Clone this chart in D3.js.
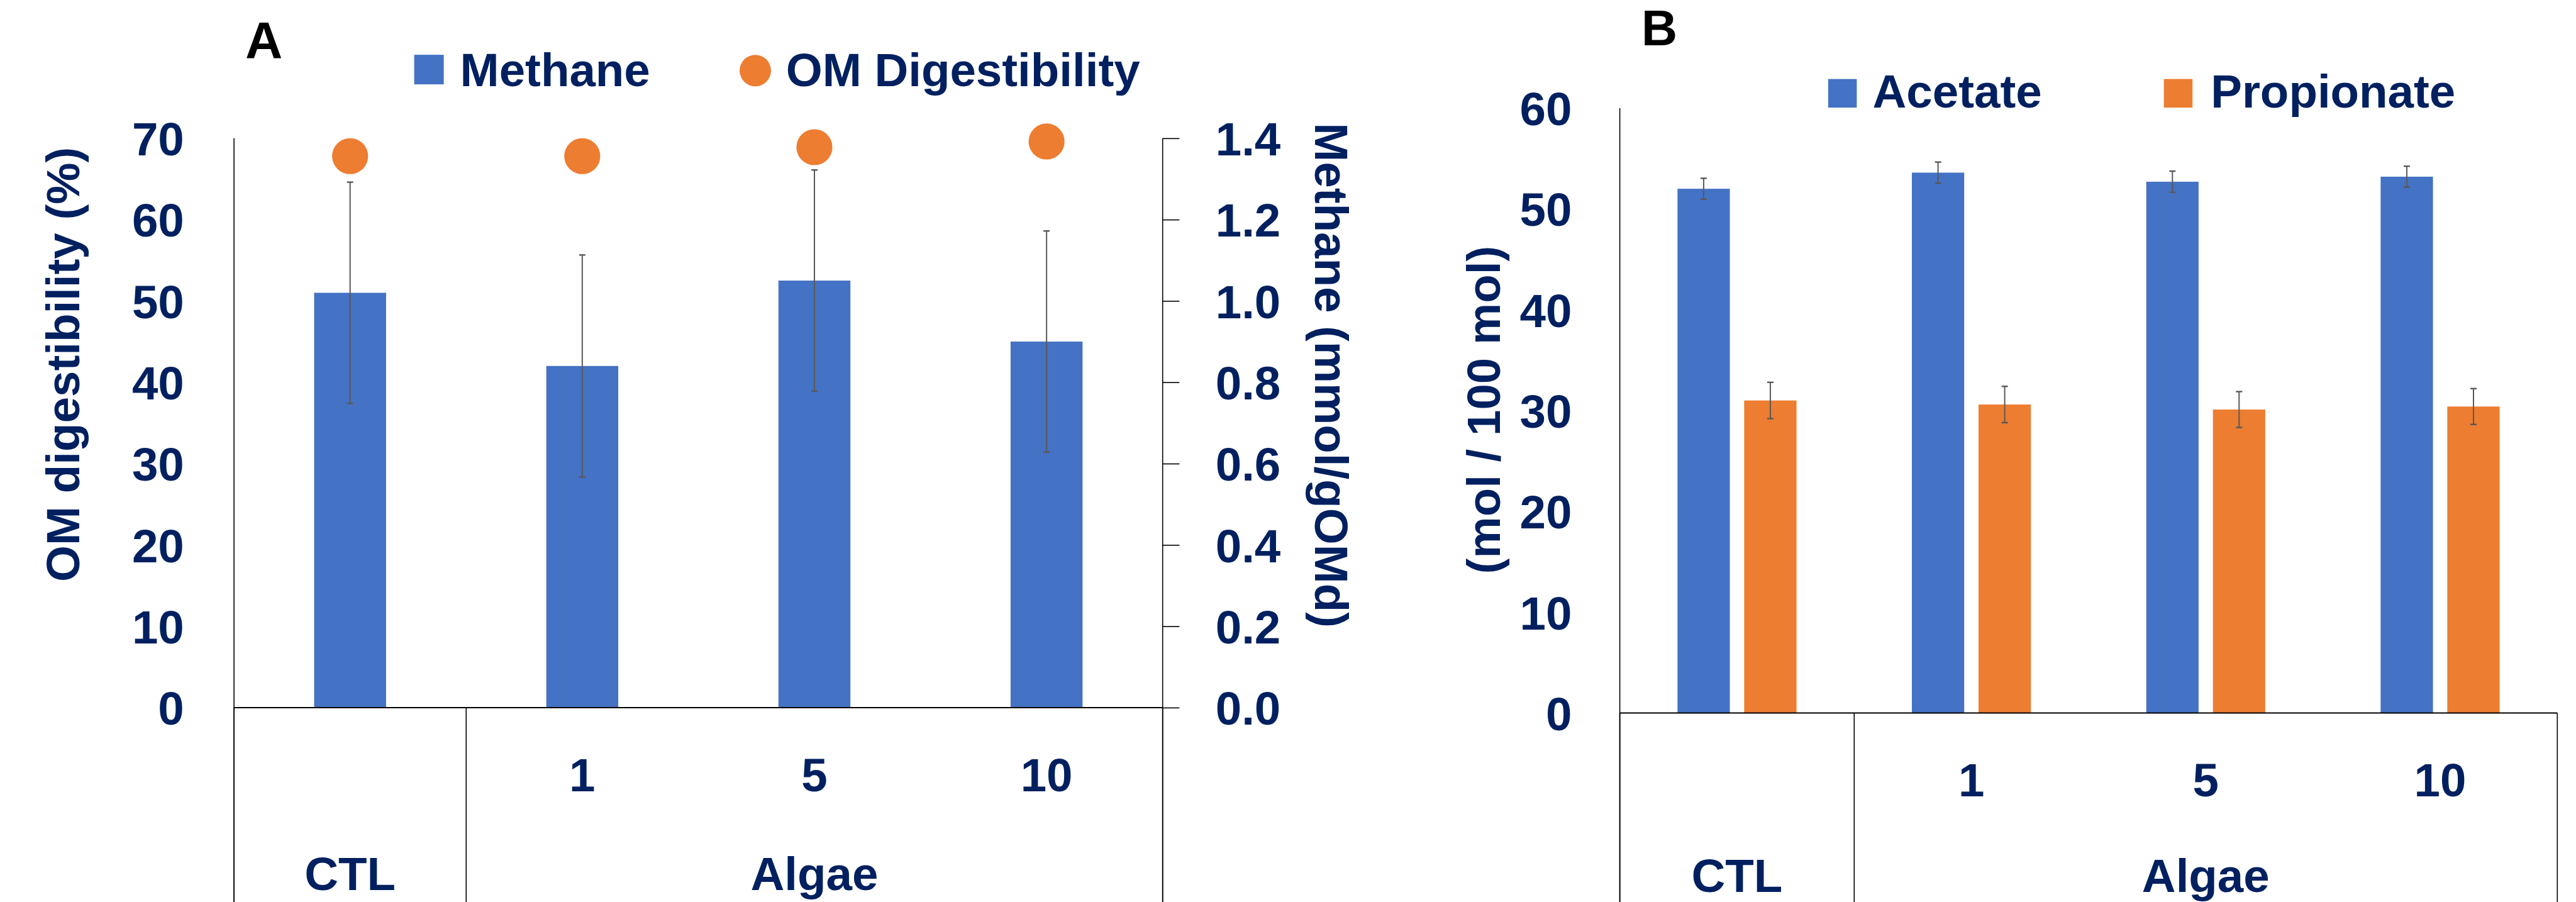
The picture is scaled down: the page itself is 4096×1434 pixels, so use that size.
<!DOCTYPE html>
<html>
<head>
<meta charset="utf-8">
<script src="https://cdn.jsdelivr.net/npm/d3@7.8.5/dist/d3.min.js"></script>
<style>
  html, body { margin: 0; padding: 0; background: #fff; overflow: hidden; }
  svg text { font-family: "Liberation Sans", Arial, sans-serif; font-weight: 700; }
</style>
</head>
<body>
<svg id="chart" width="4096" height="1434"></svg>
<script>
// ── Data ────────────────────────────────────────────────────────────────────
const CATEGORIES = ["CTL", "1", "5", "10"];
const SUB_LABELS = ["", "1", "5", "10"];
const GROUP_LABELS = ["CTL", "Algae"];
const GROUP_SIZES = [1, 3]; // how many categories each group label spans

const METHANE = [1.02, 0.84, 1.05, 0.9];
const METHANE_SE = [0.272, 0.273, 0.272, 0.272];
const OMD = [67.8, 67.8, 68.9, 69.6];

const ACETATE = [52.0, 53.6, 52.7, 53.2];
const ACETATE_SE = [1.04, 1.05, 1.05, 1.04];
const PROPIONATE = [31.0, 30.6, 30.1, 30.4];
const PROPIONATE_SE = [1.8, 1.8, 1.78, 1.78];

const OMD_TICKS = [0, 10, 20, 30, 40, 50, 60, 70];
const METHANE_TICKS = [0, 0.2, 0.4, 0.6, 0.8, 1.0, 1.2, 1.4];
const VFA_TICKS = [0, 10, 20, 30, 40, 50, 60];

// ── Style ───────────────────────────────────────────────────────────────────
const BLUE = "#4472C4";
const ORANGE = "#ED7D31";
const NAVY = "#002060";
const ERR = "#595959";
const FS = 74.5; // main font size
const H = 1434;
const AXIS_W = 1.6;

const svg = d3.select("#chart");

function styleAxis(g, size) {
  g.attr("font-family", null).attr("font-size", null);
  g.select(".domain").remove();
  g.selectAll(".tick line").attr("stroke", "#000").attr("stroke-width", AXIS_W);
  g.selectAll(".tick text")
    .attr("fill", NAVY)
    .attr("dy", "0.36em")
    .style("font-size", size + "px");
}

function vline(x, y1, y2, w) {
  svg.append("line")
    .attr("x1", x).attr("x2", x).attr("y1", y1).attr("y2", y2)
    .attr("stroke", "#000").attr("stroke-width", w || AXIS_W);
}

function hline(x1, x2, y, w) {
  svg.append("line")
    .attr("x1", x1).attr("x2", x2).attr("y1", y).attr("y2", y)
    .attr("stroke", "#000").attr("stroke-width", w || AXIS_W);
}

function errorBar(g, cx, yLo, yHi) {
  const cap = 5;
  g.append("line").attr("x1", cx).attr("x2", cx).attr("y1", yLo).attr("y2", yHi)
    .attr("stroke", ERR).attr("stroke-width", 2);
  [yLo, yHi].forEach((y) => {
    g.append("line").attr("x1", cx - cap).attr("x2", cx + cap).attr("y1", y).attr("y2", y)
      .attr("stroke", ERR).attr("stroke-width", 2.4);
  });
}

function categoryLabels(x, base, subY, groupY) {
  // lines under the baseline
  const cats = x.domain();
  hline(x.range()[0], x.range()[1], base, 2);
  let idx = 0;
  vline(x.range()[0], base, H);
  GROUP_LABELS.forEach((lab, i) => {
    const a = x(cats[idx]);
    const b = x(cats[idx + GROUP_SIZES[i] - 1]) + x.bandwidth();
    vline(b, base, H);
    svg.append("text")
      .attr("x", (a + b) / 2).attr("y", groupY)
      .attr("text-anchor", "middle").attr("fill", NAVY)
      .style("font-size", FS + "px").text(lab);
    idx += GROUP_SIZES[i];
  });
  cats.forEach((c, i) => {
    if (!SUB_LABELS[i]) return;
    svg.append("text")
      .attr("x", x(c) + x.bandwidth() / 2).attr("y", subY)
      .attr("text-anchor", "middle").attr("fill", NAVY)
      .style("font-size", FS + "px").text(SUB_LABELS[i]);
  });
}

function rotTitle(x, y, angle, text) {
  svg.append("text")
    .attr("transform", `translate(${x},${y}) rotate(${angle})`)
    .attr("text-anchor", "middle").attr("fill", NAVY)
    .style("font-size", FS + "px").text(text);
}

// ── Panel A ─────────────────────────────────────────────────────────────────
(function panelA() {
  const L = 372.1, R = 1848.7, T = 219.8, B = 1124.9;
  const x = d3.scaleBand().domain(CATEGORIES).range([L, R]);
  const yL = d3.scaleLinear().domain([0, 70]).range([B, T]);
  const yR = d3.scaleLinear().domain([0, 1.4]).range([B, T]);
  const barW = x.bandwidth() * 0.31;
  const cx = (c) => x(c) + x.bandwidth() / 2;

  const g = svg.append("g");
  g.selectAll("rect.methane")
    .data(CATEGORIES)
    .join("rect")
    .attr("class", "methane")
    .attr("x", (c) => cx(c) - barW / 2)
    .attr("width", barW)
    .attr("y", (c, i) => yR(METHANE[i]))
    .attr("height", (c, i) => B - yR(METHANE[i]))
    .attr("fill", BLUE);

  CATEGORIES.forEach((c, i) =>
    errorBar(g, cx(c), yR(METHANE[i] - METHANE_SE[i]), yR(METHANE[i] + METHANE_SE[i]))
  );

  g.selectAll("circle.omd")
    .data(CATEGORIES)
    .join("circle")
    .attr("class", "omd")
    .attr("cx", cx)
    .attr("cy", (c, i) => yL(OMD[i]))
    .attr("r", 28.6)
    .attr("fill", ORANGE);

  svg.append("g")
    .attr("transform", `translate(${L},0)`)
    .call(d3.axisLeft(yL).tickValues(OMD_TICKS).tickSize(0).tickPadding(79.3))
    .call((g) => styleAxis(g, FS));

  svg.append("g")
    .attr("transform", `translate(${R},0)`)
    .call(d3.axisRight(yR).tickValues(METHANE_TICKS).tickFormat(d3.format(".1f"))
      .tickSize(26.7).tickSizeOuter(0).tickPadding(57.3))
    .call((g) => styleAxis(g, FS));

  vline(L, T, H);
  vline(R, T, H);
  categoryLabels(x, B, 1258.4, 1415.4);

  rotTitle(125.6, 579.3, -90, "OM digestibility (%)");
  rotTitle(2090.5, 596.6, 90, "Methane (mmol/gOMd)");

  svg.append("text").attr("x", 390).attr("y", 91.8).attr("fill", "#000")
    .style("font-size", "82px").text("A");

  // legend
  svg.append("rect").attr("x", 658.6).attr("y", 87.1).attr("width", 47).attr("height", 47).attr("fill", BLUE);
  svg.append("text").attr("x", 731.6).attr("y", 137.4).attr("fill", NAVY)
    .style("font-size", FS + "px").text("Methane");
  svg.append("circle").attr("cx", 1201).attr("cy", 112.3).attr("r", 25).attr("fill", ORANGE);
  svg.append("text").attr("x", 1249.7).attr("y", 137.4).attr("fill", NAVY)
    .style("font-size", FS + "px").text("OM Digestibility");
})();

// ── Panel B ─────────────────────────────────────────────────────────────────
(function panelB() {
  const L = 2575.6, R = 4066.3, T = 171.9, B = 1133.5;
  const x = d3.scaleBand().domain(CATEGORIES).range([L, R]);
  const xs = d3.scaleBand().domain(["Acetate", "Propionate"])
    .range([0, x.bandwidth()]).paddingInner(0.215).paddingOuter(0.865);
  const y = d3.scaleLinear().domain([0, 60]).range([B, T]);

  const series = [
    { name: "Acetate", vals: ACETATE, se: ACETATE_SE, color: BLUE },
    { name: "Propionate", vals: PROPIONATE, se: PROPIONATE_SE, color: ORANGE },
  ];

  const g = svg.append("g");
  series.forEach((s) => {
    g.selectAll(null)
      .data(CATEGORIES)
      .join("rect")
      .attr("x", (c) => x(c) + xs(s.name))
      .attr("width", xs.bandwidth())
      .attr("y", (c, i) => y(s.vals[i]))
      .attr("height", (c, i) => B - y(s.vals[i]))
      .attr("fill", s.color);
  });
  series.forEach((s) => {
    CATEGORIES.forEach((c, i) => {
      const cx = x(c) + xs(s.name) + xs.bandwidth() / 2;
      errorBar(g, cx, y(s.vals[i] - s.se[i]), y(s.vals[i] + s.se[i]));
    });
  });

  svg.append("g")
    .attr("transform", `translate(${L},0)`)
    .call(d3.axisLeft(y).tickValues(VFA_TICKS).tickSize(0).tickPadding(76.2))
    .call((g) => styleAxis(g, FS));

  vline(L, T, H);
  categoryLabels(x, B, 1266.2, 1417.5);

  rotTitle(2384.8, 651.6, -90, "(mol / 100 mol)");

  svg.append("text").attr("x", 2610).attr("y", 72).attr("fill", "#000")
    .style("font-size", "79px").text("B");

  // legend
  svg.append("rect").attr("x", 2906.9).attr("y", 125.6).attr("width", 45.5).attr("height", 45.5).attr("fill", BLUE);
  svg.append("text").attr("x", 2977.5).attr("y", 171.1).attr("fill", NAVY)
    .style("font-size", FS + "px").text("Acetate");
  svg.append("rect").attr("x", 3440.7).attr("y", 125.6).attr("width", 45.5).attr("height", 45.5).attr("fill", ORANGE);
  svg.append("text").attr("x", 3515.2).attr("y", 171.1).attr("fill", NAVY)
    .style("font-size", FS + "px").text("Propionate");
})();
</script>
</body>
</html>
